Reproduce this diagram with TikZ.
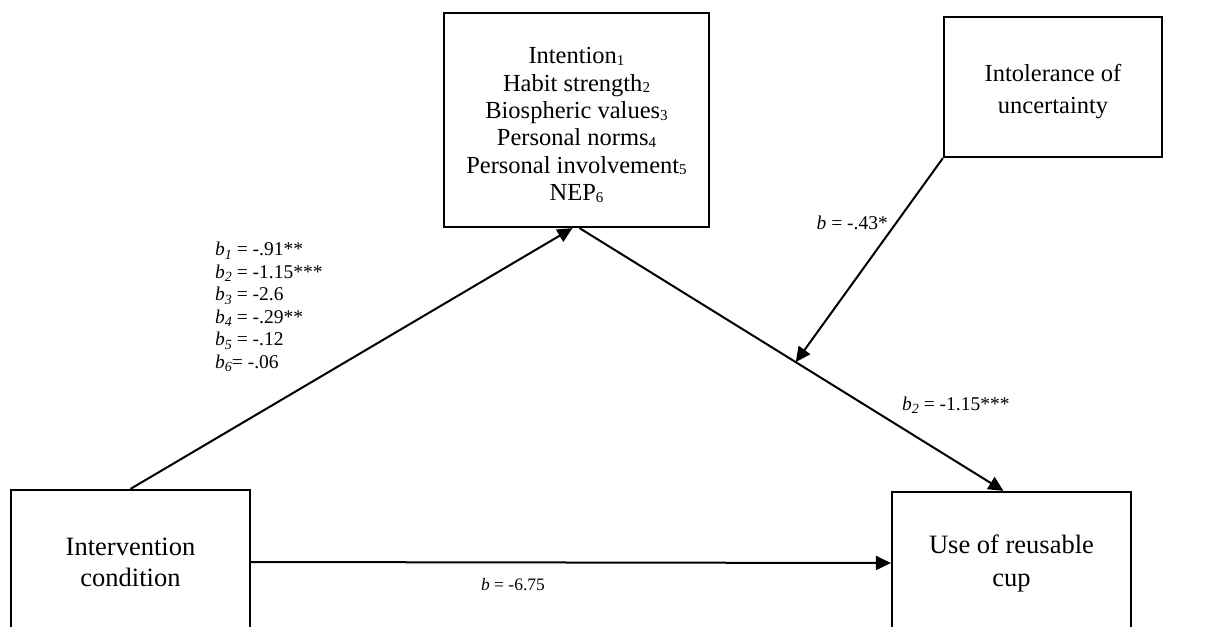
\documentclass[tikz,border=0pt]{standalone}
\usepackage{fontspec}
\setmainfont{Liberation Serif}
\usetikzlibrary{arrows.meta,calc}
\newcommand{\sbn}[1]{\raisebox{-1.5pt}{\fontsize{15}{15}\selectfont #1}}
\newcommand{\bsub}[1]{\textit{b\raisebox{-3.5pt}{\fontsize{14}{14}\selectfont #1}}}
\begin{document}
\begin{tikzpicture}[x=1pt,y=-1pt,
  box/.style={draw, line width=2.2pt, rectangle, inner sep=0pt},
  boxtext/.style={inner sep=0pt, align=center},
  link/.style={line width=2pt, -{Triangle[length=15pt,width=14pt]}},
  lab/.style={font=\fontsize{19.5}{22.5}\selectfont, inner sep=0pt, align=left}]
\useasboundingbox (0,0) rectangle (1217,626);
\clip (0,0) rectangle (1217,626);
\fill[white] (0,0) rectangle (1217,626);

\node[box, minimum width=265pt, minimum height=214pt] (med) at (576.5,120) {};
\node[boxtext, font=\fontsize{24.5}{27.4}\selectfont] (medt) at ($(med.center)+(0,5)$)
  {Intention\sbn{1}\\ Habit strength\sbn{2}\\ Biospheric values\sbn{3}\\
   Personal norms\sbn{4}\\ Personal involvement\sbn{5}\\ NEP\sbn{6}};

\node[box, minimum width=218pt, minimum height=140pt] (mod) at (1053,87) {};
\node[boxtext, font=\fontsize{24.5}{32}\selectfont] (modt) at ($(mod.center)+(0,5)$)
  {Intolerance of\\ uncertainty};

\node[box, minimum width=239pt, minimum height=144pt] (X) at (130.5,562) {};
\node[boxtext, font=\fontsize{26.5}{31}\selectfont] (Xt) at (X.center)
  {Intervention\\ condition};

\node[box, minimum width=239pt, minimum height=142pt] (Y) at (1011.5,563) {};
\node[boxtext, font=\fontsize{26.5}{33}\selectfont] (Yt) at (Y.center)
  {Use of reusable\\ cup};

\coordinate (medin) at ($(med.south)+(-4,0)$);
\coordinate (medout) at ($(med.south)+(3,0)$);
\coordinate (yin) at ($(Y.north)+(-8,0)$);
\coordinate (mtip) at ($(medout)!0.51!(yin)$);

\draw[link] (X.north) -- (medin);
\draw[link] (medout) -- (yin);
\draw[link] (X.east) -- (Y.west);
\draw[link] (mod.south west) -- (mtip);

\node[lab, anchor=west] (la) at (215,307)
  {\bsub{1} = -.91**\\ \bsub{2} = -1.15***\\ \bsub{3} = -2.6\\
   \bsub{4} = -.29**\\ \bsub{5} = -.12\\ \bsub{6}= -.06};
\node[lab, anchor=east] (lm) at (888,223) {\textit{b} = -.43*};
\node[lab, anchor=west] (lb) at (902,405) {\bsub{2} = -1.15***};
\node[lab, font=\fontsize{17.5}{20}\selectfont] (lc) at (513,585) {\textit{b} = -6.75};
\end{tikzpicture}
\end{document}
